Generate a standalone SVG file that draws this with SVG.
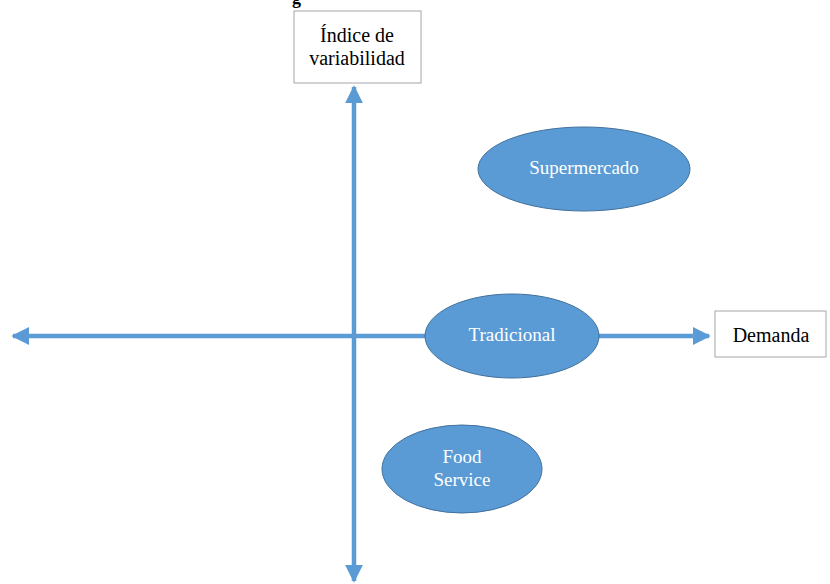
<svg xmlns="http://www.w3.org/2000/svg" width="830" height="584" viewBox="0 0 830 584">
  <style>
    .label { font-family: "Liberation Serif", "DejaVu Serif", "Times New Roman", serif; font-size: 20px; fill: #000; text-anchor: middle; }
    .box { fill: #fff; stroke: #a6a6a6; stroke-width: 1; }
    .oval { fill: #5b9bd5; stroke: #41719c; stroke-width: 1; }
    .oval-text { font-family: "Liberation Serif", "DejaVu Serif", "Times New Roman", serif; font-size: 19px; fill: #fff; text-anchor: middle; }
    .axis { stroke: #5b9bd5; stroke-width: 4.5; fill: none; }
    .caption { font-family: "Liberation Serif", "DejaVu Serif", "Times New Roman", serif; font-size: 18px; font-weight: bold; fill: #000; }
  </style>
  <defs>
    <marker id="head" viewBox="0 0 10 10" refX="9" refY="5" markerWidth="4" markerHeight="4" markerUnits="strokeWidth" orient="auto-start-reverse">
      <path d="M0,0 L10,5 L0,10 z" fill="#5b9bd5"/>
    </marker>
  </defs>
  <rect width="830" height="584" fill="#fff"/>

  <!-- caption line running off the top edge -->
  <text class="caption" x="292" y="4">g</text>

  <!-- axes -->
  <g id="connectors">
    <line class="axis" x1="354" y1="87" x2="354" y2="581" marker-start="url(#head)" marker-end="url(#head)"/>
    <line class="axis" x1="13" y1="336" x2="709" y2="336" marker-start="url(#head)" marker-end="url(#head)"/>
  </g>

  <g id="eje-vertical">
    <rect class="box" x="294" y="11" width="127" height="72"/>
    <text class="label" x="357" y="42">Índice de</text>
    <text class="label" x="357" y="65">variabilidad</text>
  </g>

  <g id="eje-horizontal">
    <rect class="box" x="715" y="311" width="111" height="46"/>
    <text class="label" x="771" y="342">Demanda</text>
  </g>

  <g id="supermercado">
    <ellipse class="oval" cx="584" cy="169" rx="106" ry="42"/>
    <text class="oval-text" x="584" y="174">Supermercado</text>
  </g>

  <g id="tradicional">
    <ellipse class="oval" cx="512" cy="336" rx="87" ry="42"/>
    <text class="oval-text" x="512" y="341">Tradicional</text>
  </g>

  <g id="food-service">
    <ellipse class="oval" cx="462" cy="469" rx="80" ry="44"/>
    <text class="oval-text" x="462" y="463">Food</text>
    <text class="oval-text" x="462" y="486">Service</text>
  </g>
</svg>
